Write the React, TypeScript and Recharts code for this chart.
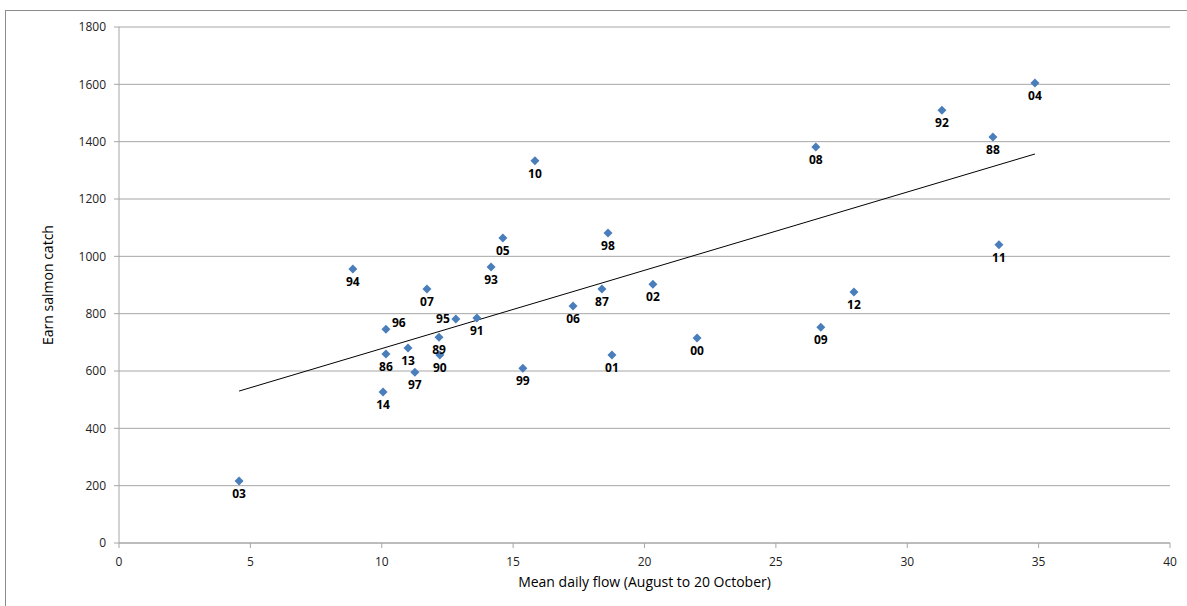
import { ScatterChart, Scatter, XAxis, YAxis, CartesianGrid, LabelList } from "recharts";

const years = ["03", "14", "86", "96", "13", "97", "89", "90", "95", "91", "99", "07", "94", "93", "05", "10", "06", "87", "98", "01", "02", "00", "08", "09", "12", "92", "88", "11", "04"];
const flow = [4.57, 10.05, 10.16, 10.16, 11.0, 11.26, 12.18, 12.21, 12.82, 13.62, 15.37, 11.72, 8.9, 14.16, 14.61, 15.83, 17.28, 18.38, 18.61, 18.76, 20.32, 22.0, 26.52, 26.71, 27.97, 31.32, 33.26, 33.49, 34.86];
const salmonCatch = [216, 527, 659, 746, 680, 596, 718, 656, 781, 785, 610, 886, 956, 963, 1064, 1333, 827, 886, 1081, 656, 903, 715, 1381, 753, 876, 1510, 1416, 1040, 1605];

// linear trend line end points
const trendX = [4.57, 34.86];
const trendY = [530, 1357];

const xTicks = [0, 5, 10, 15, 20, 25, 30, 35, 40];
const yTicks = [0, 200, 400, 600, 800, 1000, 1200, 1400, 1600, 1800];

const points = years.map((yr, i) => ({ x: flow[i], y: salmonCatch[i], yr }));
const trend = trendX.map((x, i) => ({ x, y: trendY[i] }));

// labels that sit beside the marker instead of under it
const labelSide: Record<string, string> = { "96": "right", "95": "left" };

const font = "'Open Sans', sans-serif";

const Diamond = (props: any) => {
	const { cx, cy } = props;
	const r = 4.5;
	return (
		<polygon
			points={`${cx},${cy - r} ${cx + r},${cy} ${cx},${cy + r} ${cx - r},${cy}`}
			fill="#4a7ebb"
		/>
	);
};

const YearLabel = (props: any) => {
	const { x, y, width, height, value } = props;
	const cx = x + width / 2;
	const cy = y + height / 2;
	const side = labelSide[value];
	let tx = cx;
	let ty = cy + 14;
	let anchor: "middle" | "start" | "end" = "middle";
	if (side === "right") {
		tx = cx + 6;
		ty = cy - 5;
		anchor = "start";
	} else if (side === "left") {
		tx = cx - 6;
		ty = cy + 1;
		anchor = "end";
	}
	return (
		<text
			x={tx}
			y={ty}
			textAnchor={anchor}
			dominantBaseline="middle"
			fontFamily={font}
			fontSize={12}
			fontWeight="bold"
			fill="#000"
		>
			{value}
		</text>
	);
};

const App = () => {
	return (
		<div style={{ position: "absolute", left: 0, top: 0, width: 1187, height: 606, background: "#fff", overflow: "hidden" }}>
			<div
				style={{
					position: "absolute",
					left: 5,
					top: 10,
					width: 1300,
					height: 700,
					borderLeft: "1px solid #8c8c8c",
					borderTop: "1px solid #8c8c8c",
				}}
			/>
			<div style={{ position: "absolute", left: 0, top: 0 }}>
				<ScatterChart
					width={1187}
					height={606}
					margin={{ top: 27, right: 17, bottom: 33, left: 0 }}
				>
					<CartesianGrid vertical={false} stroke="#a6a6a6" />
					<XAxis
						type="number"
						dataKey="x"
						domain={[0, 40]}
						ticks={xTicks}
						height={30}
						stroke="#a6a6a6"
						tickSize={5}
						tickMargin={9}
						tick={{ fill: "#222", fontFamily: font, fontSize: 12 }}
						label={{
							value: "Mean daily flow (August to 20 October)",
							position: "insideBottom",
							offset: -14,
							style: { fill: "#000", fontFamily: font, fontSize: 14 },
						}}
					/>
					<YAxis
						type="number"
						dataKey="y"
						domain={[0, 1800]}
						ticks={yTicks}
						width={119}
						stroke="#a6a6a6"
						tickSize={5}
						tickMargin={8}
						tick={{ fill: "#222", fontFamily: font, fontSize: 12 }}
						label={{
							value: "Earn salmon catch",
							angle: -90,
							position: "insideLeft",
							offset: 48,
							style: { textAnchor: "middle", fill: "#000", fontFamily: font, fontSize: 14 },
						}}
					/>
					<Scatter
						data={trend}
						line={{ stroke: "#000", strokeWidth: 1 }}
						shape={() => null}
						isAnimationActive={false}
					/>
					<Scatter data={points} shape={Diamond} isAnimationActive={false}>
						<LabelList dataKey="yr" content={YearLabel} />
					</Scatter>
				</ScatterChart>
			</div>
		</div>
	);
};

export default App;
